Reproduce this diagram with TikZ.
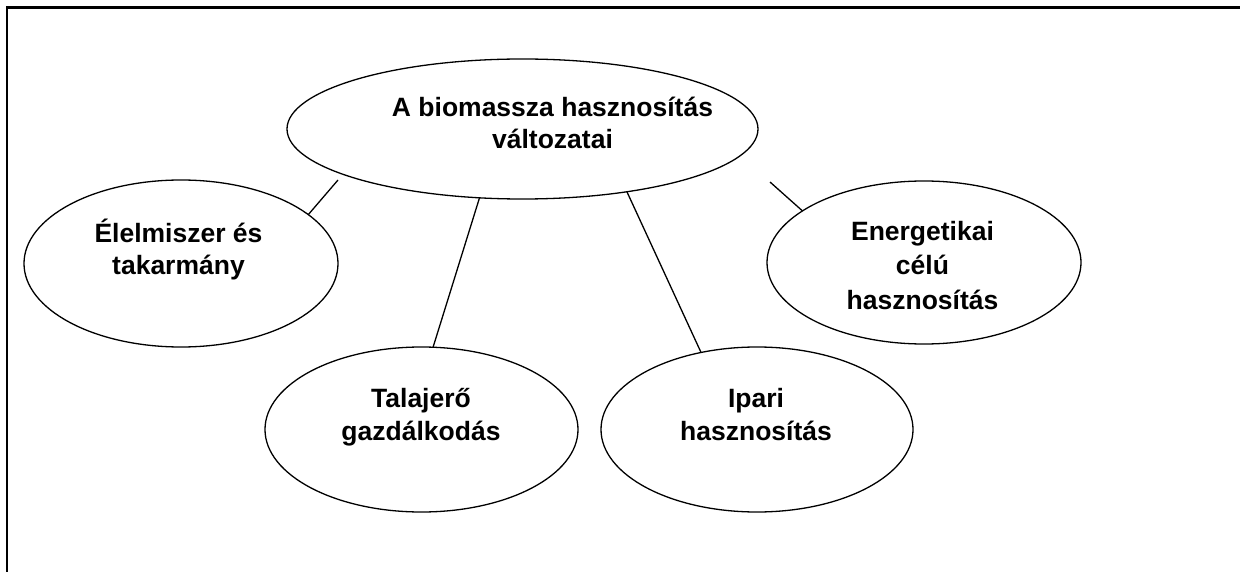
\documentclass[tikz,border=0pt]{standalone}
\usepackage{fontspec}
\setmainfont{Liberation Sans}
\usetikzlibrary{shapes.geometric}
\begin{document}
\begin{tikzpicture}[x=1pt,y=-1pt,
  oval/.style={ellipse, draw, line width=1.3pt, inner sep=0pt, outer sep=0pt},
  lbl/.style={font=\bfseries\fontsize{26.5}{#1}\selectfont, align=center, inner sep=0pt},
  lbl/.default=32,
  conn/.style={line width=1.3pt},
  frame/.style={line width=2.2pt}]
\useasboundingbox (0,0) rectangle (1240,572);
\fill[white] (0,0) rectangle (1240,572);
\draw[frame] (7,580) -- (7,7.5) -- (1245,7.5);
% ellipses
\node[oval, minimum width=471pt, minimum height=140pt] (root) at (522.5,129) {};
\node[oval, minimum width=314pt, minimum height=167pt] (elel) at (181,263.5) {};
\node[oval, minimum width=313pt, minimum height=165pt] (talaj) at (421.5,429.5) {};
\node[oval, minimum width=312pt, minimum height=165pt] (ipari) at (757,429.5) {};
\node[oval, minimum width=314pt, minimum height=163pt] (energ) at (924,262.5) {};
% texts
\node[lbl] (rootT) at (552.5,122.5) {A biomassza hasznosítás\\változatai};
\node[lbl] (elelT) at (178.5,250) {Élelmiszer és\\takarmány};
\node[lbl=33.5] (talajT) at (421,417) {Talajerő\\gazdálkodás};
\node[lbl=33.5] (ipariT) at (756,414.5) {Ipari\\hasznosítás};
\node[lbl=34.5] (energT) at (922.5,265.5) {Energetikai\\célú\\hasznosítás};
% connectors
\coordinate (j1) at (338,180);
\coordinate (j4) at (770,182);
\draw[conn] (j1) -- (elel.21.5);
\draw[conn] (root.238.9) -- (talaj.82.1);
\draw[conn] (root.329) -- (ipari.126.3);
\draw[conn] (j4) -- (energ.157.5);
\end{tikzpicture}
\end{document}
